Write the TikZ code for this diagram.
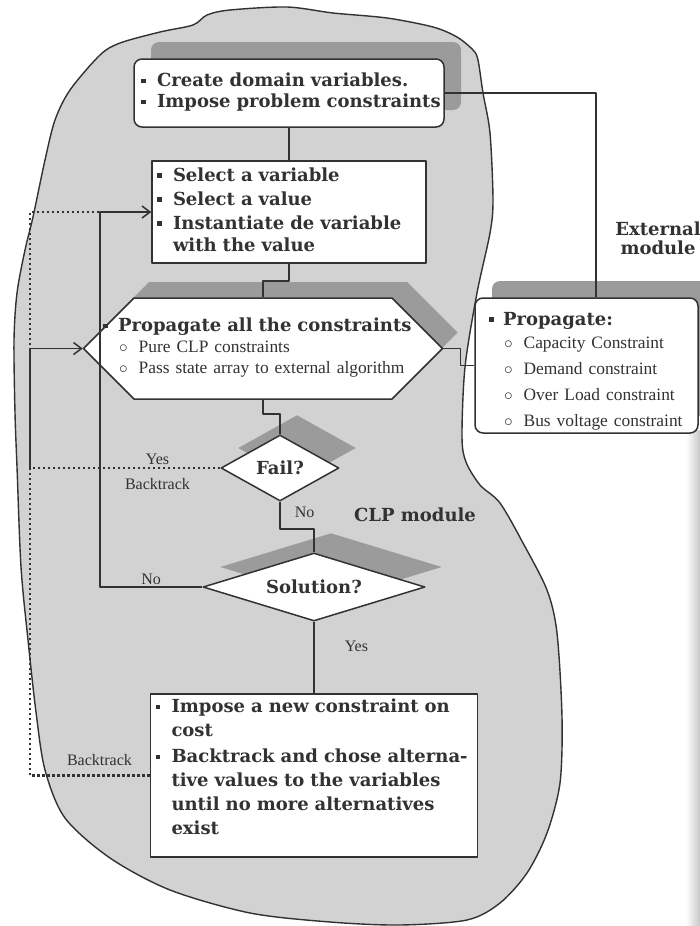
\documentclass[tikz,border=0pt]{standalone}
\usepackage{fontspec}
\setmainfont{Liberation Serif}
\newfontfamily\headfamily{DejaVu Serif}
\usetikzlibrary{positioning,shapes.geometric,shapes.misc,shadows,arrows.meta}
\definecolor{ink}{RGB}{50,50,50}
\definecolor{blobgray}{RGB}{210,210,210}
\definecolor{shade}{RGB}{155,155,155}
\newcommand{\boxfont}[1]{\headfamily\bfseries\fontsize{18}{#1}\selectfont}
\newcommand{\sqb}{\rule[3.5pt]{4.5pt}{4.5pt}}
\newcommand{\subitm}[1]{\hspace{1pt}{\rmfamily\mdseries\fontsize{17.4}{20}\selectfont$\circ$\hspace{11pt}#1}}
\begin{document}
\begin{tikzpicture}[x=1pt, y=-1pt, line join=round]
\tikzstyle{block} = [rectangle, draw=ink, line width=1.5pt, fill=white, text=ink, align=left, inner ysep=2pt]
\tikzstyle{rounded} = [block, rounded corners=8pt, drop shadow={shadow xshift=17pt, shadow yshift=17pt, fill=shade, opacity=1}]
\tikzstyle{octagon} = [chamfered rectangle, chamfered rectangle xsep=30pt, chamfered rectangle ysep=28pt, draw=ink, line width=1.5pt, fill=white, text=ink, align=left, drop shadow={shadow xshift=15pt, shadow yshift=16pt, fill=shade, opacity=1}]
\tikzstyle{decision} = [diamond, aspect=2, inner sep=0pt, draw=ink, line width=1.5pt, fill=white, text=ink, font=\boxfont{20}, drop shadow={shadow xshift=17pt, shadow yshift=20pt, fill=shade, opacity=1}]
\tikzstyle{line} = [draw=ink, line width=1.5pt]
\tikzstyle{arrow} = [line, ->, >={Straight Barb[length=8pt,width=12pt]}]
\tikzstyle{dotline} = [draw=ink, line width=2.5pt, dash pattern=on 2.5pt off 2.5pt]
\tikzstyle{lbl} = [font=\fontsize{16}{18}\selectfont, text=ink, inner sep=2pt]
\tikzstyle{title} = [font=\headfamily\bfseries\fontsize{18}{19}\selectfont, text=ink, align=center]
\useasboundingbox (0,0) rectangle (700,926);
%
\draw [draw=ink, line width=1.4pt, fill=blobgray] plot [smooth cycle, tension=0.5] coordinates {
  (70,90) (100,55) (120,43) (160,32) (193,25) (207,15) (230,10) (287,7) (333,13) (387,18)
  (433,27) (457,37) (473,50) (478,60) (483,93) (490,133) (493,200) (490,233) (477,293)
  (465,367) (462,437) (466,462) (480,485) (500,503) (523,543) (547,590) (557,633) (562,717)
  (560,783) (547,833) (527,873) (500,903) (467,920) (400,925) (330,922) (250,913) (170,890)
  (110,858) (65,818) (45,770) (36,712) (28,640) (21,567) (17,467) (15,413) (14,340) (17,293)
  (25,250) (33,217) (45,160) (55,120)};
\fill [left color=white, right color=black!22] (686,430) rectangle (700,926);
%
\node (create) [rounded, font=\boxfont{21}, text width=296pt, inner xsep=7pt, minimum height=68pt] at (289,93)
  {\begin{tabular}{@{}p{16pt}@{}l@{}}
   \sqb & Create domain variables.\\
   \sqb & Impose problem constraints
   \end{tabular}};
\node (select) [block, font=\boxfont{22}, text width=264pt, inner xsep=5pt, minimum height=102pt] at (289,212)
  {\begin{tabular}{@{}p{16pt}@{}l@{}}
   \sqb & Select a variable\\[2pt]
   \sqb & Select a value\\[2pt]
   \sqb & Instantiate de variable\\
        & with the value
   \end{tabular}};
\node (propagate) [octagon, font=\boxfont{21}, text width=320pt, inner xsep=-3pt, inner ysep=-9pt] at (263,348.5)
  {\begin{tabular}{@{}p{15pt}@{}l@{}}
   \sqb & Propagate all the constraints\\
        & \subitm{Pure CLP constraints}\\
        & \subitm{Pass state array to external algorithm}
   \end{tabular}};
\node (fail) [decision, minimum width=118pt, minimum height=66pt] at (280,468) {Fail?};
\node (solution) [decision, aspect=3, minimum width=222pt, minimum height=68pt] at (314,587) {Solution?};
\node (decide) [block, font=\boxfont{24}, text width=317pt, inner xsep=5pt, minimum height=163pt] at (314,775.5)
  {\begin{tabular}{@{}p{16pt}@{}l@{}}
   \sqb & Impose a new constraint on\\
        & cost\\[2pt]
   \sqb & Backtrack and chose alterna-\\
        & tive values to the variables\\
        & until no more alternatives\\
        & exist\\[13pt]
   \end{tabular}};
\node (external) [rounded, font=\boxfont{26}, text width=195pt, inner xsep=14pt, minimum height=135pt] at (586.5,365.5)
  {\begin{tabular}{@{}p{14pt}@{}l@{}}
   \sqb & Propagate:\\[-3pt]
        & \subitm{Capacity Constraint}\\
        & \subitm{Demand constraint}\\
        & \subitm{Over Load constraint}\\
        & \subitm{Bus voltage constraint}\\[-10pt]
   \end{tabular}};
\node (clp) [title] at (415,515) {CLP module};
\node (extname) [title] at (658,238) {External\\module};
%
\coordinate (nocorner) at (100,212);
\coordinate (failback) at (30,468);
\coordinate (btcorner) at (30,212);
%
\draw [line] (create.east) -| ([xshift=9.5pt]external.north);
\draw [line] (create) -- (select);
\draw [line] (select.south) -- ++(0,17) -| (propagate.north);
\draw [line] (propagate.south) -- ++(0,14) -| (fail.north);
\draw [line] (fail.south) -- node[lbl, right=12pt, pos=0.4] {No} ++(0,27) -| (solution.north);
\draw [line] (solution.south) -- node[lbl, right=28pt, pos=0.35] {Yes} (decide.north);
\draw [line] (propagate.east) -- ++(17,0) |- (external.west);
\draw [dotline] (decide.west) -| node[lbl, above=7pt, pos=0.21] {Backtrack} (btcorner) -- (nocorner);
\draw [dotline] (fail.west) -- node[lbl, above, pos=0.33] {Yes} node[lbl, below=7pt, pos=0.33] {Backtrack} (failback);
\draw [arrow] (failback) |- (propagate.west);
\draw [arrow] (solution.west) -| node[lbl, above, pos=0.25] {No} (nocorner) -- (select.west);
\end{tikzpicture}
\end{document}
